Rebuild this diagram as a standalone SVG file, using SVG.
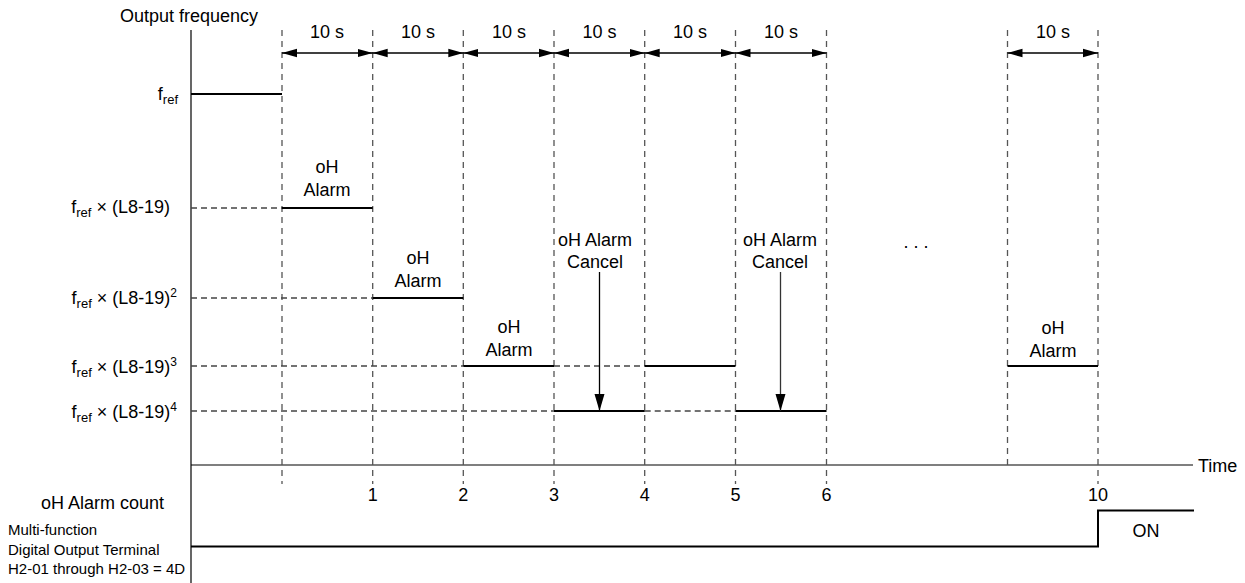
<svg xmlns="http://www.w3.org/2000/svg" width="1245" height="583" viewBox="0 0 1245 583">
<defs>
<marker id="ah" markerWidth="16" markerHeight="10" refX="15" refY="5" orient="auto-start-reverse" markerUnits="userSpaceOnUse">
<path d="M0,0.8 L15,5 L0,9.2 Z" fill="#000"/>
</marker>
<marker id="ad" markerWidth="12" markerHeight="18" refX="6" refY="17" orient="0" markerUnits="userSpaceOnUse">
<path d="M1,0 L6,17 L11,0 Z" fill="#000"/>
</marker>
</defs>
<style>
text{font-family:"Liberation Sans",Arial,sans-serif;font-size:18px;fill:#000}
.sm{font-size:15px}
.c{text-anchor:middle}
.e{text-anchor:end}
.ax{stroke:#000;stroke-width:1.2;fill:none}
.sig{stroke:#000;stroke-width:2;fill:none}
.vd{stroke:#555;stroke-width:1.3;stroke-dasharray:6 5;fill:none}
.hd{stroke:#444;stroke-width:1.3;stroke-dasharray:6 4;fill:none}
.dim{stroke:#000;stroke-width:1.3;fill:none}
</style>
<rect width="1245" height="583" fill="#fff"/>

<g id="axes">
<line class="ax" x1="191" y1="30" x2="191" y2="583"/>
<line class="ax" x1="191" y1="465" x2="1193" y2="465"/>
<text x="120" y="22">Output frequency</text>
<text x="1198" y="472">Time</text>
</g>

<g id="gridlines">
<line class="vd" x1="282" y1="30" x2="282" y2="484"/>
<line class="vd" x1="372.7" y1="30" x2="372.7" y2="484"/>
<line class="vd" x1="463.3" y1="30" x2="463.3" y2="484"/>
<line class="vd" x1="554" y1="30" x2="554" y2="484"/>
<line class="vd" x1="644.7" y1="30" x2="644.7" y2="484"/>
<line class="vd" x1="735.5" y1="30" x2="735.5" y2="484"/>
<line class="vd" x1="826.5" y1="30" x2="826.5" y2="484"/>
<line class="vd" x1="1007.5" y1="30" x2="1007.5" y2="465"/>
<line class="vd" x1="1098" y1="30" x2="1098" y2="484"/>
<line class="hd" x1="191" y1="208" x2="282" y2="208"/>
<line class="hd" x1="191" y1="298" x2="372.7" y2="298"/>
<line class="hd" x1="191" y1="366" x2="463.3" y2="366"/>
<line class="hd" x1="554" y1="366" x2="644.7" y2="366"/>
<line class="hd" x1="191" y1="411" x2="554" y2="411"/>
<line class="hd" x1="644.7" y1="411" x2="735.5" y2="411"/>
</g>

<g id="dimensions">
<line class="dim" x1="282" y1="53" x2="372.7" y2="53" marker-start="url(#ah)" marker-end="url(#ah)"/>
<line class="dim" x1="372.7" y1="53" x2="463.3" y2="53" marker-start="url(#ah)" marker-end="url(#ah)"/>
<line class="dim" x1="463.3" y1="53" x2="554" y2="53" marker-start="url(#ah)" marker-end="url(#ah)"/>
<line class="dim" x1="554" y1="53" x2="644.7" y2="53" marker-start="url(#ah)" marker-end="url(#ah)"/>
<line class="dim" x1="644.7" y1="53" x2="735.5" y2="53" marker-start="url(#ah)" marker-end="url(#ah)"/>
<line class="dim" x1="735.5" y1="53" x2="826.5" y2="53" marker-start="url(#ah)" marker-end="url(#ah)"/>
<line class="dim" x1="1007.5" y1="53" x2="1098" y2="53" marker-start="url(#ah)" marker-end="url(#ah)"/>
<text class="c" x="327" y="38">10 s</text>
<text class="c" x="418" y="38">10 s</text>
<text class="c" x="509" y="38">10 s</text>
<text class="c" x="599.5" y="38">10 s</text>
<text class="c" x="690" y="38">10 s</text>
<text class="c" x="781" y="38">10 s</text>
<text class="c" x="1053" y="38">10 s</text>
</g>

<g id="levels">
<text class="e" x="178" y="100">f<tspan font-size="13" dy="4">ref</tspan></text>
<text class="e" x="170" y="213">f<tspan font-size="13" dy="4">ref</tspan><tspan dy="-4"> × (L8-19)</tspan></text>
<text class="e" x="177" y="304">f<tspan font-size="13" dy="4">ref</tspan><tspan dy="-4"> × (L8-19)</tspan><tspan font-size="12" dy="-7">2</tspan></text>
<text class="e" x="177" y="373">f<tspan font-size="13" dy="4">ref</tspan><tspan dy="-4"> × (L8-19)</tspan><tspan font-size="12" dy="-7">3</tspan></text>
<text class="e" x="177" y="418">f<tspan font-size="13" dy="4">ref</tspan><tspan dy="-4"> × (L8-19)</tspan><tspan font-size="12" dy="-7">4</tspan></text>
</g>

<g id="frequency-signal">
<line class="sig" x1="191" y1="94" x2="282" y2="94"/>
<line class="sig" x1="282" y1="208" x2="372.7" y2="208"/>
<line class="sig" x1="372.7" y1="298" x2="463.3" y2="298"/>
<line class="sig" x1="463.3" y1="366" x2="554" y2="366"/>
<line class="sig" x1="554" y1="411" x2="644.7" y2="411"/>
<line class="sig" x1="644.7" y1="366" x2="735.5" y2="366"/>
<line class="sig" x1="735.5" y1="411" x2="826.5" y2="411"/>
<line class="sig" x1="1007.5" y1="366" x2="1098" y2="366"/>
</g>

<g id="alarm-labels">
<text class="c" x="327" y="173">oH</text>
<text class="c" x="327" y="196">Alarm</text>
<text class="c" x="418" y="264">oH</text>
<text class="c" x="418" y="287">Alarm</text>
<text class="c" x="509" y="333">oH</text>
<text class="c" x="509" y="356">Alarm</text>
<text class="c" x="1053" y="334">oH</text>
<text class="c" x="1053" y="357">Alarm</text>
<text class="c" x="595" y="246">oH Alarm</text>
<text class="c" x="595" y="268">Cancel</text>
<text class="c" x="780" y="246">oH Alarm</text>
<text class="c" x="780" y="268">Cancel</text>
<text class="c" x="916" y="248">. . .</text>
</g>

<g id="cancel-arrows">
<line x1="599.5" y1="272" x2="599.5" y2="411" stroke="#000" stroke-width="1.3" marker-end="url(#ad)"/>
<line x1="780.5" y1="272" x2="780.5" y2="411" stroke="#333" stroke-width="1.3" marker-end="url(#ad)"/>
</g>

<g id="count">
<text x="41" y="509">oH Alarm count</text>
<text class="c" x="372.7" y="501">1</text>
<text class="c" x="463.3" y="501">2</text>
<text class="c" x="554" y="501">3</text>
<text class="c" x="644.7" y="501">4</text>
<text class="c" x="735.5" y="501">5</text>
<text class="c" x="826.5" y="501">6</text>
<text class="c" x="1098" y="501">10</text>
</g>

<g id="digital-output">
<text class="sm" x="8" y="535">Multi-function</text>
<text class="sm" x="8" y="555">Digital Output Terminal</text>
<text class="sm" x="8" y="574">H2-01 through H2-03 = 4D</text>
<polyline class="sig" points="191,546.5 1098,546.5 1098,510.5 1194,510.5"/>
<text class="c" x="1146" y="537">ON</text>
</g>
</svg>
